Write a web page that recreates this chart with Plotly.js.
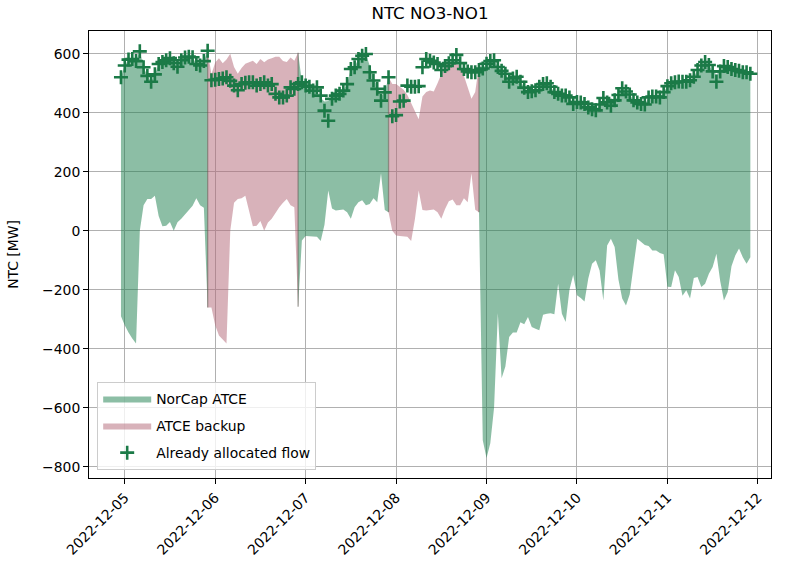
<!DOCTYPE html>
<html>
<head>
<meta charset="utf-8">
<script src="https://cdn.plot.ly/plotly-3.0.1.min.js"></script>
<style>html,body{margin:0;padding:0;background:#fff;}#chart{width:785px;height:575px;}</style>
</head>
<body>
<div id="chart"></div>
<script>
// ---- Data (hourly, first hour 2022-12-04 23:00, 7 days x 24 h) ----
const firstHour = '2022-12-04T23:00:00Z';
const dayKinds = ['NorCap', 'Backup', 'NorCap', 'Backup', 'NorCap', 'NorCap', 'NorCap'];

const allocatedFlow = [
  520,560,580,582,575,608,554,525,505,530,565,572,578,585,568,556,578,587,590,588,565,560,575,610,
  510,512,514,516,520,508,492,476,497,502,503,503,492,497,503,492,497,464,452,452,458,486,481,497,
  503,492,488,475,486,458,407,373,447,458,464,475,497,548,554,582,593,599,537,509,481,441,469,520,
  388,392,438,441,492,488,488,490,554,582,576,570,565,545,558,568,578,596,568,548,540,537,537,545,
  550,566,575,578,555,542,532,505,516,522,505,485,470,473,476,488,497,500,488,470,464,458,458,452,
  430,436,435,430,418,412,408,428,450,435,424,442,460,483,472,462,442,435,430,428,452,455,455,452,
  470,490,500,503,506,505,505,510,522,545,560,572,562,540,505,540,558,555,548,545,542,537,537,532
];

const atceUpper = [
  520,560,580,582,575,608,554,525,505,530,565,572,578,585,568,556,578,587,590,588,565,560,575,610,
  530,570,585,568,580,600,555,532,552,566,572,576,565,582,571,580,585,590,590,575,572,587,576,603,
  505,495,485,475,470,450,438,440,452,460,466,476,498,548,556,582,593,598,560,520,486,455,470,520,
  497,497,488,478,460,432,400,378,455,470,475,472,500,535,563,568,565,565,560,525,485,447,470,560,
  550,566,575,578,555,542,532,505,516,522,505,485,470,473,476,488,497,500,488,470,464,458,458,452,
  430,436,435,430,418,412,408,428,450,435,424,442,460,483,472,462,442,435,430,428,452,455,455,452,
  470,490,500,503,506,505,505,510,522,545,560,572,562,540,530,540,558,555,548,545,542,537,537,532
];

const atceLower = [
  -290,-320,-345,-365,-382,0,86,108,108,119,50,15,17,30,0,29,41,55,70,85,110,86,78,-260,
  -260,-320,-355,-370,-382,0,95,108,110,119,65,15,17,33,0,28,41,60,80,95,108,86,80,-258,
  -33,-18,-18,-20,-20,-35,20,136,75,69,70,72,63,41,80,97,103,86,91,110,97,195,70,63,
  0,-16,-18,-20,-20,-35,40,136,70,69,70,72,63,41,74,100,106,86,86,110,97,195,71,63,
  -710,-770,-720,-600,-280,-500,-460,-360,-345,-345,-310,-317,-292,-326,-332,-337,-285,-281,-280,-283,-180,-281,-309,-200,
  -150,-219,-228,-240,-162,-112,-100,-135,-236,-50,-27,-55,-165,-230,-253,-215,-120,-27,-37,-48,-52,-67,-67,-75,
  -80,-190,-191,-134,-157,-220,-202,-230,-160,-157,-191,-180,-146,-123,-78,-170,-236,-208,-120,-84,-60,-90,-112,-90
];

const xTickLabels = ['2022-12-05','2022-12-06','2022-12-07','2022-12-08','2022-12-09','2022-12-10','2022-12-11','2022-12-12'];

// ---- Build ----
const pad = n => String(n).padStart(2, '0');
const t0 = Date.parse(firstHour);
const times = allocatedFlow.map((_, i) => {
  const d = new Date(t0 + i * 3600000);
  return d.getUTCFullYear() + '-' + pad(d.getUTCMonth() + 1) + '-' + pad(d.getUTCDate()) + ' ' + pad(d.getUTCHours()) + ':00';
});
const hourKind = allocatedFlow.map((_, i) => dayKinds[Math.floor(i / 24)]);

const styles = {
  NorCap: {name: 'NorCap ATCE', color: 'rgba(26,125,76,0.5)'},
  Backup: {name: 'ATCE backup', color: 'rgba(178,102,118,0.5)'}
};

// contiguous runs of the same kind
const runs = [];
let s = 0;
for (let i = 1; i <= hourKind.length; i++) {
  if (i === hourKind.length || hourKind[i] !== hourKind[s]) { runs.push([s, i - 1, hourKind[s]]); s = i; }
}

const traces = [];
const shown = {};
const seamX = [], seamY = [];
runs.forEach(([a, b, kind]) => {
  const a2 = Math.max(0, a - 1);
  const xs = [], ys = [];
  for (let i = a2; i <= b; i++) { xs.push(times[i]); ys.push(atceUpper[i]); }
  for (let i = b; i >= a2; i--) { xs.push(times[i]); ys.push(atceLower[i]); }
  traces.push({
    x: xs, y: ys, type: 'scatter', mode: 'lines', fill: 'toself',
    fillcolor: styles[kind].color, line: {width: 0, color: styles[kind].color},
    name: styles[kind].name, legendgroup: kind, showlegend: !shown[kind], hoverinfo: 'skip'
  });
  shown[kind] = true;
  if (a > 0) { seamX.push(times[a - 1], times[a - 1], null); seamY.push(atceUpper[a - 1], atceLower[a - 1], null); }
});
// thin darker seam where two fills meet
traces.push({
  x: seamX, y: seamY, type: 'scatter', mode: 'lines', showlegend: false, hoverinfo: 'skip',
  line: {width: 1.3, color: 'rgba(95,90,80,0.55)'}, connectgaps: false
});
traces.push({
  x: times, y: allocatedFlow, type: 'scatter', mode: 'markers', name: 'Already allocated flow',
  legendgroup: 'alloc',
  marker: {symbol: 'cross-thin', size: 10, line: {width: 2.6, color: '#1b7a47'}, color: '#1b7a47'}
});

const font = {family: 'DejaVu Sans, Liberation Sans, sans-serif', size: 13.9, color: '#000'};
const layout = {
  width: 785, height: 575,
  margin: {l: 89, r: 14.4, t: 31, b: 97, pad: 0},
  paper_bgcolor: '#fff', plot_bgcolor: '#fff',
  font: font,
  title: {text: 'NTC NO3-NO1', font: {family: font.family, size: 16.7, color: '#000'},
          x: 0.5, xref: 'paper', y: 1 - 13.5 / 575, yref: 'container', yanchor: 'middle', xanchor: 'center'},
  xaxis: {
    type: 'date', range: ['2022-12-04 14:31', '2022-12-12 03:29'],
    tickmode: 'array', tickvals: xTickLabels, ticktext: xTickLabels,
    tickangle: -45, ticks: 'outside', ticklen: 5, tickwidth: 1, tickcolor: '#000',
    showline: true, linecolor: '#000', linewidth: 1, mirror: true,
    showgrid: true, gridcolor: '#b0b0b0', gridwidth: 1, zeroline: false,
    tickfont: font
  },
  yaxis: {
    range: [-838, 677], dtick: 200, tick0: 0,
    ticks: 'outside', ticklen: 5, tickwidth: 1, tickcolor: '#000',
    showline: true, linecolor: '#000', linewidth: 1, mirror: true,
    showgrid: true, gridcolor: '#b0b0b0', gridwidth: 1, zeroline: false,
    title: {text: 'NTC [MW]', font: font, standoff: 20},
    tickfont: font
  },
  legend: {
    x: 0.012, y: 0.018, xanchor: 'left', yanchor: 'bottom',
    bgcolor: 'rgba(255,255,255,0.8)', bordercolor: '#cccccc', borderwidth: 1,
    font: font, traceorder: 'grouped', tracegroupgap: 6, itemwidth: 48
  },
  showlegend: true
};

Plotly.newPlot('chart', traces, layout, {displayModeBar: false, staticPlot: true});
</script>
</body>
</html>
